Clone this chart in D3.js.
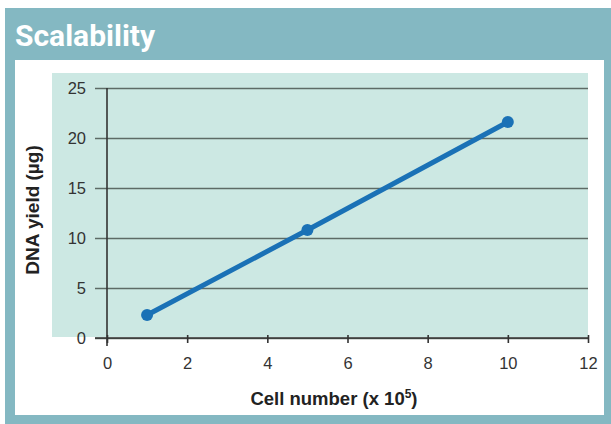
<!DOCTYPE html>
<html>
<head>
<meta charset="utf-8">
<script src="https://cdn.jsdelivr.net/npm/d3@7"></script>
<style>
  body { margin: 0; background: #fff; }
  text { font-family: "Liberation Sans", Arial, sans-serif; }
</style>
</head>
<body>
<script>
// data
var cellNumbers = [1, 5, 10];
var dnaYield = [2.3, 10.8, 21.6];
var xTicks = [0, 2, 4, 6, 8, 10, 12];
var yTicks = [0, 5, 10, 15, 20, 25];

var W = 611, H = 424;
var svg = d3.select("body").append("svg")
    .attr("width", W)
    .attr("height", H);

// teal frame + white panel
svg.append("rect").attr("x", 5).attr("y", 8).attr("width", W - 5).attr("height", H - 8)
    .attr("fill", "#84b8c2");
svg.append("rect").attr("x", 15).attr("y", 60).attr("width", 589).attr("height", 355)
    .attr("fill", "#fff");

svg.append("text")
    .attr("x", 15).attr("y", 46)
    .attr("fill", "#fff")
    .style("font-family", "Roboto, sans-serif")
    .style("font-size", "30px")
    .style("font-weight", "bold")
    .text("Scalability");

var xScale = d3.scaleLinear().domain([0, 12]).range([107, 588]);
var yScale = d3.scaleLinear().domain([0, 25]).range([338, 88]);

// plot background
svg.append("rect")
    .attr("x", 52).attr("y", 73)
    .attr("width", 588 - 52).attr("height", 337 - 73)
    .attr("fill", "#cce8e3");

// grid lines (y)
var yAxis = d3.axisLeft(yScale).tickValues(yTicks)
    .tickSize(-(588 - 95)).tickPadding(6).tickSizeOuter(0);
var yG = svg.append("g")
    .attr("transform", "translate(95,0)")
    .call(yAxis);
yG.select(".domain").remove();
yG.selectAll("line").attr("stroke", "#5d6b66").attr("stroke-width", 1.6);
yG.selectAll("text").attr("fill", "#333").style("font-size", "16.5px").attr("x", -9);

// y axis line
svg.append("line")
    .attr("x1", xScale(0)).attr("x2", xScale(0))
    .attr("y1", yScale(25)).attr("y2", 346)
    .attr("stroke", "#333").attr("stroke-width", 1.6);

// x axis
var xAxis = d3.axisBottom(xScale).tickValues(xTicks)
    .tickSize(8).tickPadding(14).tickSizeOuter(0);
var xG = svg.append("g")
    .attr("transform", "translate(0," + (yScale(0) - 3) + ")")
    .call(xAxis);
xG.select(".domain").remove();
xG.selectAll("line").attr("stroke", "#333").attr("stroke-width", 1.6);
xG.selectAll("text").attr("fill", "#333").style("font-size", "16.5px");
svg.append("line")
    .attr("x1", 95).attr("x2", xScale(12))
    .attr("y1", yScale(0)).attr("y2", yScale(0))
    .attr("stroke", "#333").attr("stroke-width", 1.6);

// data line
var pts = cellNumbers.map(function(c, i){ return {x: c, y: dnaYield[i]}; });
var line = d3.line()
    .x(function(d){ return xScale(d.x); })
    .y(function(d){ return yScale(d.y); });
svg.append("path")
    .datum(pts)
    .attr("d", line)
    .attr("fill", "none")
    .attr("stroke", "#1a71b6")
    .attr("stroke-width", 5);
svg.selectAll("circle.pt")
    .data(pts)
    .enter().append("circle")
    .attr("class", "pt")
    .attr("cx", function(d){ return xScale(d.x); })
    .attr("cy", function(d){ return yScale(d.y); })
    .attr("r", 6)
    .attr("fill", "#1a71b6");

// axis titles
var xt = svg.append("text")
    .attr("x", 334).attr("y", 405)
    .attr("text-anchor", "middle")
    .attr("fill", "#222")
    .style("font-size", "18.5px")
    .style("font-weight", "bold")
    .text("Cell number (x 10");
xt.append("tspan").attr("dy", -7).style("font-size", "12px").text("5");
xt.append("tspan").attr("dy", 7).text(")");

svg.append("text")
    .attr("transform", "translate(39,210) rotate(-90)")
    .attr("text-anchor", "middle")
    .attr("fill", "#222")
    .style("font-size", "19px")
    .style("font-weight", "bold")
    .text("DNA yield (µg)");
</script>
</body>
</html>
